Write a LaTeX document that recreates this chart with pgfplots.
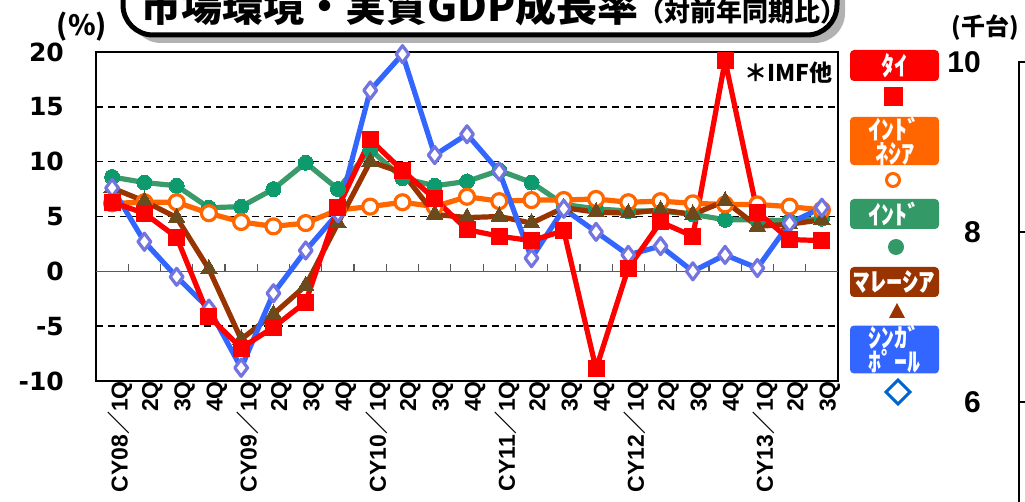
\documentclass[border=0pt]{standalone}
\usepackage{pgfplots}
\pgfplotsset{compat=1.18}
\usepackage{fontspec}
\setmainfont{Liberation Sans}
\newfontfamily\jp{Noto Sans CJK JP}
\newfontfamily\jpblack{Noto Sans CJK JP Black}
\newfontfamily\djv{DejaVu Sans}
\definecolor{thaiRed}{HTML}{FF0000}
\definecolor{indoOrange}{HTML}{FF6600}
\definecolor{indiaLine}{HTML}{3A9A6A}
\definecolor{indiaMark}{HTML}{0D9A6C}
\definecolor{malayLine}{HTML}{993300}
\definecolor{malayMark}{HTML}{6B4A1E}
\definecolor{singLine}{HTML}{3366FF}
\definecolor{singMark}{HTML}{7474E0}
\definecolor{legGreen}{HTML}{339966}
\definecolor{legBlue}{HTML}{3366FF}
\definecolor{legDia}{HTML}{0066CC}
\begin{document}
\begin{tikzpicture}[x=1pt,y=1pt]
\useasboundingbox (0,0) rectangle (1025,501);
\clip (0,0) rectangle (1025,501);
% title box
\fill[black!30, rounded corners=30pt] (131,458) rectangle (845,560);
\draw[line width=5pt, fill=white, rounded corners=30pt] (123,466) rectangle (837,560);
\node[anchor=base west, inner sep=0pt] at (140,479) {\jpblack\fontsize{41}{41}\selectfont 市場環境・実質GDP成長率\fontsize{26}{26}\selectfont（対前年同期比）};
% (%)
\node[inner sep=0pt] at (82,474) {\jp\bfseries\fontsize{28}{28}\selectfont (\%)};
% IMF
\node[anchor=north east, inner sep=0pt] at (833,439) {\jp\bfseries\fontsize{23}{23}\selectfont ＊IMF他};

\begin{axis}[at={(96pt,120pt)}, anchor=south west, scale only axis,
  width=742pt, height=329pt,
  xmin=-0.5, xmax=22.5, ymin=-10, ymax=20,
  axis line style={line width=2.5pt, black},
  major tick length=0pt,
  ytick={-10,-5,0,5,10,15,20},
  yticklabels={-10,-5,0,5,10,15,20},
  yticklabel style={font=\djv\bfseries\fontsize{25}{25}\selectfont, inner sep=0pt, xshift=-32pt, anchor=east},
  xtick={0,...,22},
  xticklabels={{CY08{\jp\bfseries ／}1Q},2Q,3Q,4Q,{CY09{\jp\bfseries ／}1Q},2Q,3Q,4Q,{CY10{\jp\bfseries ／}1Q},2Q,3Q,4Q,{CY11{\jp\bfseries ／}1Q},2Q,3Q,4Q,{CY12{\jp\bfseries ／}1Q},2Q,3Q,4Q,{CY13{\jp\bfseries ／}1Q},2Q,3Q},
  xticklabel style={rotate=90, anchor=east, font=\bfseries\fontsize{23}{23}\selectfont, inner sep=0pt, yshift=-8pt},
  ymajorgrids,
  major grid style={black, line width=1.6pt, dash pattern=on 7pt off 5pt},
  clip=false,
]
\draw[black!65, line width=1.5pt] (axis cs:-0.5,0) -- (axis cs:22.5,0);
\pgfplotsinvokeforeach{0.5,1.5,2.5,3.5,4.5,5.5,6.5,7.5,8.5,9.5,10.5,11.5,12.5,13.5,14.5,15.5,16.5,17.5,18.5,19.5,20.5,21.5}{
  \draw[black!65, line width=1.2pt] (axis cs:#1,0) -- ++(0pt,7pt);
}
% India
\addplot[color=indiaLine, line width=5.2pt, line join=round, mark=*, mark size=7.5pt,
  mark options={fill=indiaMark, draw=indiaMark, line width=0pt}] coordinates {
(0,8.6)(1,8.1)(2,7.8)(3,5.8)(4,5.9)(5,7.5)(6,9.9)(7,7.5)(8,11.1)(9,8.5)(10,7.8)(11,8.2)
(12,9.2)(13,8.1)(14,6.1)(15,5.7)(16,5.5)(17,5.5)(18,5.2)(19,4.7)(20,4.7)(21,4.6)(22,4.8)};
% Indonesia
\addplot[color=indoOrange, line width=5.2pt, line join=round, mark=*, mark size=7.5pt,
  mark options={fill=white, draw=indoOrange, line width=3.2pt}] coordinates {
(0,6.2)(1,6.3)(2,6.3)(3,5.3)(4,4.5)(5,4.1)(6,4.4)(7,5.6)(8,5.9)(9,6.3)(10,5.9)(11,6.8)
(12,6.4)(13,6.5)(14,6.5)(15,6.6)(16,6.3)(17,6.4)(18,6.2)(19,6.1)(20,6.1)(21,5.9)(22,5.6)};
% Malaysia
\addplot[color=malayLine, line width=5.2pt, line join=round, mark=triangle*, mark size=9.5pt,
  mark options={fill=malayMark, draw=malayMark, line width=0pt}] coordinates {
(0,7.6)(1,6.4)(2,4.9)(3,0.2)(4,-6.2)(5,-3.9)(6,-1.3)(7,4.4)(8,10.0)(9,9.0)(10,5.2)(11,4.9)
(12,5.0)(13,4.4)(14,5.8)(15,5.4)(16,5.3)(17,5.6)(18,5.2)(19,6.4)(20,4.1)(21,4.3)(22,4.7)};
% Singapore
\addplot[color=singLine, line width=5.2pt, line join=round, mark=diamond*, mark size=8.5pt,
  mark options={fill=white, draw=singMark, line width=3.2pt}] coordinates {
(0,7.6)(1,2.7)(2,-0.5)(3,-3.4)(4,-8.8)(5,-2.0)(6,1.9)(7,5.3)(8,16.5)(9,19.8)(10,10.6)(11,12.5)
(12,9.1)(13,1.2)(14,5.7)(15,3.6)(16,1.5)(17,2.3)(18,0.0)(19,1.5)(20,0.3)(21,4.4)(22,5.8)};
% Thailand
\addplot[color=thaiRed, line width=5.2pt, line join=round, mark=square*, mark size=8pt,
  mark options={fill=thaiRed, draw=thaiRed, line width=0pt}] coordinates {
(0,6.3)(1,5.3)(2,3.1)(3,-4.1)(4,-7.0)(5,-5.1)(6,-2.8)(7,5.8)(8,12.0)(9,9.2)(10,6.6)(11,3.8)
(12,3.2)(13,2.8)(14,3.7)(15,-8.9)(16,0.3)(17,4.5)(18,3.2)(19,19.2)(20,5.4)(21,2.9)(22,2.8)};
\end{axis}

% legend
\tikzset{legbox/.style={rounded corners=4pt, minimum width=89pt, text=white, inner sep=0pt, align=center,
  font=\jp\bfseries\fontsize{26}{24}\selectfont}}
\node[legbox, fill=thaiRed, minimum height=31pt] at (894.5,435.5) {ﾀｲ};
\fill[thaiRed] (883.5,394.5) rectangle (902.5,413.5);
\node[legbox, fill=indoOrange, minimum height=48pt] at (894.5,360) {ｲﾝﾄﾞ\\ﾈｼｱ};
\draw[indoOrange, line width=3pt, fill=white] (893,321) circle (6.5pt);
\node[legbox, fill=legGreen, minimum height=30pt] at (894.5,287) {ｲﾝﾄﾞ};
\fill[legGreen] (896,254) circle (8pt);
\node[legbox, fill=malayLine, minimum height=30pt] at (894.5,219) {\scalebox{1.25}[1]{ﾏﾚｰｼｱ}};
\fill[malayLine] (889,183) -- (905,183) -- (897,198) -- cycle;
\node[legbox, fill=legBlue, minimum height=47pt] at (894.5,151.5) {ｼﾝｶﾞ\\ﾎﾟｰﾙ};
\draw[legDia, line width=3pt, fill=white] (898,121) -- (910,109) -- (898,97) -- (886,109) -- cycle;

% right partial chart
\node[inner sep=0pt] at (985,473) {\jp\bfseries\fontsize{24}{24}\selectfont (千台)};
\begin{axis}[at={(1019pt,-28.5pt)}, anchor=south west, scale only axis,
  width=200pt, height=467.5pt, xmin=0, xmax=1, ymin=4.5, ymax=10,
  xtick=\empty, ytick={6,8,10}, yticklabels={6,8,10},
  axis line style={line width=1.5pt, black},
  tick align=inside, major tick length=8pt, tick style={line width=1.5pt, black},
  yticklabel style={font=\bfseries\fontsize{30}{30}\selectfont, inner sep=0pt, xshift=-38pt, anchor=east},
]
\end{axis}
\end{tikzpicture}
\end{document}
